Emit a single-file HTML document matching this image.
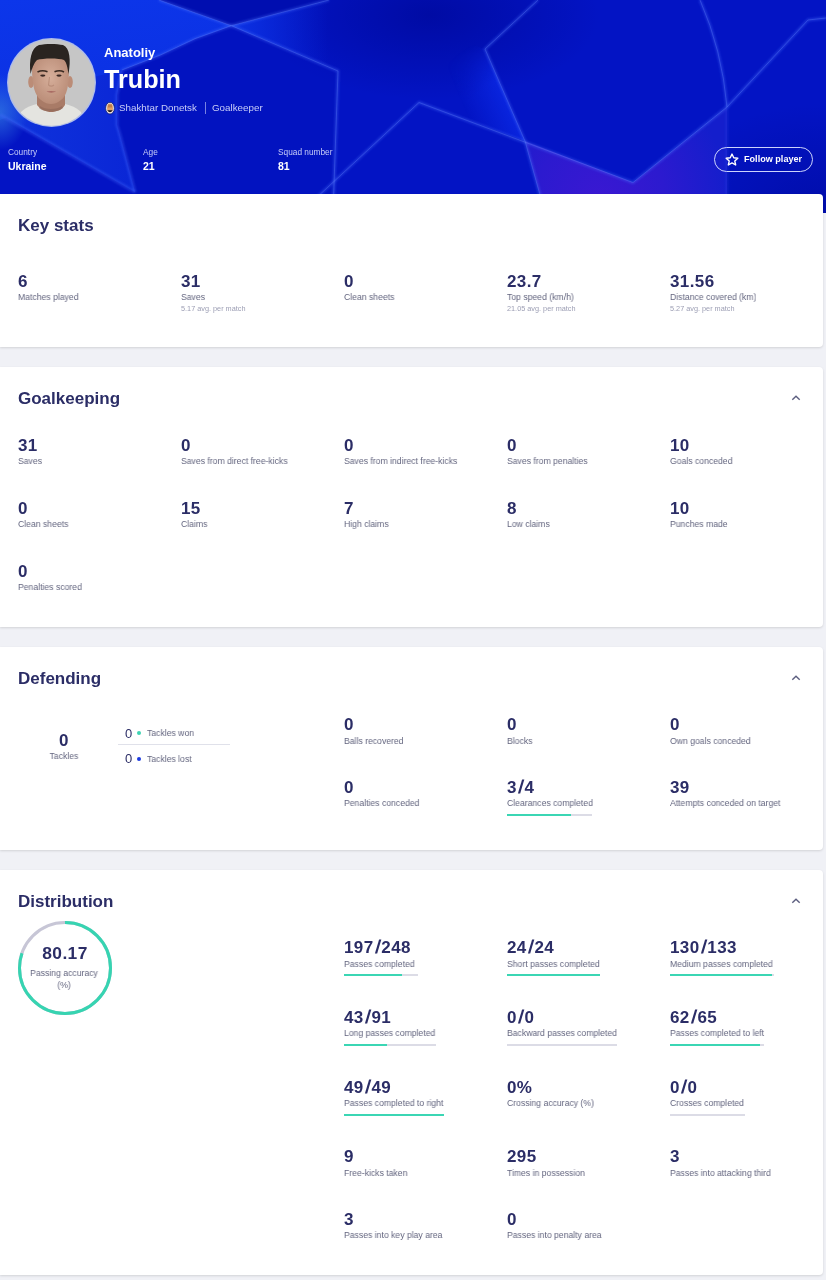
<!DOCTYPE html>
<html><head><meta charset="utf-8">
<style>
*{margin:0;padding:0;box-sizing:border-box}
html,body{width:826px;height:1280px;overflow:hidden;background:#f0f1f6;font-family:"Liberation Sans",sans-serif}
.a{position:absolute;white-space:nowrap;line-height:1;will-change:transform}
#hdr{position:absolute;left:0;top:0;width:826px;height:213px;overflow:hidden;background:#0a22d4}
.card{position:absolute;left:0;width:823px;background:#fff;border-radius:0 4px 4px 0;box-shadow:0 1px 2.5px rgba(0,0,0,0.13)}
.h{font-weight:bold;font-size:17px;color:#2b2d66}
.n{font-weight:bold;font-size:17px;color:#2b2d66;letter-spacing:0.4px}
.sl{display:inline-block;margin:0 1.3px;transform:scale(1.12,1.1) skewX(-6deg);transform-origin:50% 80%}
.l{font-size:8.7px;color:#63657f;transform:scaleX(0.95);transform-origin:0 0}
.s{font-size:7.3px;color:#9c9eb4}
.hw{color:#fff;font-weight:bold}
.hl{color:#c9cef8}
.bar{position:absolute;height:2px;background:#dcdce6}
.bar i{position:absolute;left:0;top:0;height:2px;background:#3bd6b4}
.chev{position:absolute;width:9px;height:6px}
</style></head><body>
<div id="hdr">
<svg width="826" height="213" style="position:absolute;left:0;top:0">
<defs>
<radialGradient id="dk" cx="0.5" cy="0.5" r="0.5"><stop offset="0" stop-color="#000ba4" stop-opacity="1"/><stop offset="1" stop-color="#000ba4" stop-opacity="0"/></radialGradient>
<linearGradient id="wl" x1="0" y1="0" x2="0.3" y2="1"><stop offset="0" stop-color="#0c36ea"/><stop offset="1" stop-color="#0b30e2"/></linearGradient>
<linearGradient id="lc" x1="0" y1="0" x2="1" y2="0"><stop offset="0" stop-color="#0f34dc"/><stop offset="1" stop-color="#0a26d6"/></linearGradient>
<radialGradient id="cy" cx="0.5" cy="0.5" r="0.5"><stop offset="0" stop-color="#2a6ae0" stop-opacity="0.9"/><stop offset="1" stop-color="#2a6ae0" stop-opacity="0"/></radialGradient>
<radialGradient id="pu" cx="600" cy="200" r="130" gradientUnits="userSpaceOnUse"><stop offset="0" stop-color="#3a18d2"/><stop offset="0.5" stop-color="#2c1acf"/><stop offset="1" stop-color="#141ecc"/></radialGradient>
<linearGradient id="gl" x1="505" y1="95" x2="466" y2="112" gradientUnits="userSpaceOnUse"><stop offset="0" stop-color="#0a26e0" stop-opacity="0.95"/><stop offset="1" stop-color="#0a26e0" stop-opacity="0"/></linearGradient>
<radialGradient id="glr" cx="515" cy="130" r="95" gradientUnits="userSpaceOnUse"><stop offset="0" stop-color="#fff"/><stop offset="0.55" stop-color="#fff"/><stop offset="1" stop-color="#000"/></radialGradient>
<mask id="glm" maskUnits="userSpaceOnUse" x="0" y="0" width="826" height="213"><rect width="826" height="213" fill="url(#glr)"/></mask>
<filter id="bl" x="-5%" y="-5%" width="110%" height="110%"><feGaussianBlur stdDeviation="1.3"/></filter>
<linearGradient id="rw" x1="231" y1="0" x2="328" y2="0" gradientUnits="userSpaceOnUse"><stop offset="0" stop-color="#0c34e6" stop-opacity="0.95"/><stop offset="1" stop-color="#0c34e6" stop-opacity="0"/></linearGradient>
</defs>
<rect width="826" height="213" fill="#0314c4"/>
<ellipse cx="430" cy="15" rx="170" ry="85" fill="url(#dk)"/>
<ellipse cx="826" cy="213" rx="170" ry="110" fill="url(#dk)" opacity="0.8"/>
<polygon points="159,0 231.3,25.7 329,0" fill="#000eb0"/>
<polygon points="231.3,25.7 338,71 333,213 135,213 120,135 117,95 122,70" fill="#0111bc" opacity="0.5"/>
<polygon points="0,0 159,0 231.3,25.7 195,38.7 160.5,55 122,70 0,120" fill="url(#wl)"/>
<polygon points="0,100 122,70 117,95 117,125 120,135 135,192 0,114.6" fill="url(#lc)"/>
<polygon points="231.3,25.7 329,0 338,71" fill="url(#rw)"/>
<ellipse cx="0" cy="112" rx="28" ry="38" fill="url(#cy)"/>
<polygon points="400,90 430,30 485,49 525,141 419,102.5" fill="url(#gl)" mask="url(#glm)"/>
<polygon points="525,141 633,182.5 727,107 727,213 545,213" fill="url(#pu)"/>
<g fill="none" stroke-linejoin="round">
<g stroke="#4a70ff" stroke-opacity="0.35" stroke-width="3" filter="url(#bl)">
<path d="M159,0 L231.3,25.7 L338,71 L333,213"/>
<path d="M329,0 L231.3,25.7 L195,38.7 L160.5,55 L122,70"/>
<path d="M300,213 L419,102.5 L633,182.5 L727,107"/>
<path d="M538,0 L485,49 L525,141 L545,213"/>
<path d="M700,0 Q722,50 727,107"/>
<path d="M727,107 L727,213" stroke-opacity="0.15"/>
<path d="M727,107 L808,20 L826,18"/>
<path d="M122,70 L117,95 L117,125 L120,135 L135,192"/>
<path d="M0,114.6 L135,192"/>
</g>
<g stroke="#7094ff" stroke-opacity="0.35" stroke-width="0.8">
<path d="M159,0 L231.3,25.7 L338,71 L333,213"/>
<path d="M329,0 L231.3,25.7 L195,38.7 L160.5,55 L122,70"/>
<path d="M300,213 L419,102.5 L633,182.5 L727,107"/>
<path d="M538,0 L485,49 L525,141 L545,213"/>
<path d="M700,0 Q722,50 727,107"/>
<path d="M727,107 L808,20 L826,18"/>
</g>
</g>
</svg>
<!-- avatar -->
<svg class="a" style="left:7px;top:38px" width="89" height="89" viewBox="0 0 89 89">
<defs><clipPath id="cc"><circle cx="44.5" cy="44.5" r="43.2"/></clipPath>
<radialGradient id="sk" cx="0.5" cy="0.45" r="0.6"><stop offset="0" stop-color="#d6ae9a"/><stop offset="1" stop-color="#b88a75"/></radialGradient></defs>
<circle cx="44.5" cy="44.5" r="44.5" fill="#aebcea"/>
<g clip-path="url(#cc)">
<rect width="89" height="89" fill="#c6c6c6"/>
<path d="M10,89 L14,74 C20,68 28,66 36,65 L52,65 C60,66 68,68 74,74 L80,89 Z" fill="#e4e4e0"/>
<path d="M30,56 L30,67 C34,72 40,74 44,74 C49,74 55,72 58,67 L58,56 Z" fill="#a97b67"/>
<path d="M33,68 C38,72 50,72 55,68 L56,70 C50,75 38,75 32,70 Z" fill="#8e6657" opacity="0.6"/>
<ellipse cx="24" cy="44" rx="2.8" ry="6" fill="#bb8c77"/>
<ellipse cx="63" cy="44" rx="2.8" ry="6" fill="#bb8c77"/>
<path d="M25,30 C25,48 28,58 34,62 C38,65 41,66 44,66 C47,66 50,65 54,62 C60,58 62,48 62,30 C62,22 55,18 44,18 C33,18 25,22 25,30 Z" fill="url(#sk)"/>
<path d="M23.5,36 C22,22 24,10 32,7 C38,5.5 50,5.5 56,7 C63,10 64,22 61.5,36 C60.5,30 60,25 57,22 C52,20 36,20 30,22 C27,25 25,30 23.5,36 Z" fill="#2a2420"/>
<path d="M30.5,34 C34,32.3 37.5,32.5 40.5,33.8 M47.5,33.8 C50.5,32.5 54,32.3 57,34" stroke="#3a2a22" stroke-width="1.6" fill="none"/>
<ellipse cx="35.8" cy="37.6" rx="2.6" ry="1.1" fill="#3a2823"/>
<ellipse cx="52" cy="37.6" rx="2.6" ry="1.1" fill="#3a2823"/>
<path d="M42.5,39 L41.5,47 C43,48.2 45.5,48.2 47,47" stroke="#b08570" stroke-width="1.1" fill="none" opacity="0.7"/>
<path d="M39.5,53.6 C42,52.8 46,52.8 49,53.6 C46.5,55 42,55 39.5,53.6 Z" fill="#a86a62"/>
</g>
</svg>
<div class="a hw" style="left:104px;top:46px;font-size:13px">Anatoliy</div>
<div class="a hw" style="left:104px;top:67.2px;font-size:25.2px">Trubin</div>
<svg class="a" style="left:105px;top:101.5px" width="10" height="13" viewBox="0 0 10 13">
<ellipse cx="5" cy="6.2" rx="4.4" ry="5.9" fill="#e9e4ef" stroke="#13206a" stroke-width="0.8"/>
<ellipse cx="5" cy="6" rx="3" ry="4.4" fill="#e2a068"/>
<path d="M2.4,8.2 C3.5,10.6 6.5,10.6 7.6,8.2 Z" fill="#1a1a20"/>
<path d="M4,2.5 v3 M6,2.5 v3" stroke="#8a5020" stroke-width="0.8"/>
</svg>
<div class="a hl" style="left:119px;top:103px;font-size:9.8px">Shakhtar Donetsk</div>
<div class="a" style="left:205px;top:102px;width:1px;height:12px;background:rgba(200,205,248,0.6)"></div>
<div class="a hl" style="left:212px;top:103px;font-size:9.8px">Goalkeeper</div>
<div class="a hl" style="left:8px;top:148px;font-size:8.3px">Country</div>
<div class="a hw" style="left:8px;top:161px;font-size:10.5px">Ukraine</div>
<div class="a hl" style="left:143px;top:148px;font-size:8.3px">Age</div>
<div class="a hw" style="left:143px;top:161px;font-size:10.5px">21</div>
<div class="a hl" style="left:278px;top:148px;font-size:8.3px">Squad number</div>
<div class="a hw" style="left:278px;top:161px;font-size:10.5px">81</div>
<div class="a" style="left:714px;top:147px;width:99px;height:25px;border:1px solid rgba(215,222,255,0.95);border-radius:13px"></div>
<svg class="a" style="left:725px;top:153px" width="14" height="13" viewBox="0 0 24 22.3"><path d="M12,1.8 L15,8.2 L22,9 L16.8,13.8 L18.3,20.6 L12,17.1 L5.7,20.6 L7.2,13.8 L2,9 L9,8.2 Z" fill="none" stroke="#fff" stroke-width="2.4" stroke-linejoin="round"/></svg>
<div class="a hw" style="left:744px;top:155.2px;font-size:9.1px">Follow player</div>
</div>

<div class="card" style="top:194px;height:153px"></div>
<div class="a h" style="left:18px;top:216.51px;font-size:17px;">Key stats</div>
<div class="a n" style="left:18px;top:272.61px;font-size:17px;">6</div>
<div class="a l" style="left:18px;top:292.9px;font-size:9.1px;">Matches played</div>
<div class="a n" style="left:181px;top:272.61px;font-size:17px;">31</div>
<div class="a l" style="left:181px;top:292.9px;font-size:9.1px;">Saves</div>
<div class="a s" style="left:181px;top:304.62px;font-size:7.3px;">5.17 avg. per match</div>
<div class="a n" style="left:344px;top:272.61px;font-size:17px;">0</div>
<div class="a l" style="left:344px;top:292.9px;font-size:9.1px;">Clean sheets</div>
<div class="a n" style="left:507px;top:272.61px;font-size:17px;">23.7</div>
<div class="a l" style="left:507px;top:292.9px;font-size:9.1px;">Top speed (km/h)</div>
<div class="a s" style="left:507px;top:304.62px;font-size:7.3px;">21.05 avg. per match</div>
<div class="a n" style="left:670px;top:272.61px;font-size:17px;">31.56</div>
<div class="a l" style="left:670px;top:292.9px;font-size:9.1px;">Distance covered (km)</div>
<div class="a s" style="left:670px;top:304.62px;font-size:7.3px;">5.27 avg. per match</div>
<div class="card" style="top:367px;height:260px"></div>
<div class="a h" style="left:18px;top:389.51px;font-size:17px;">Goalkeeping</div>
<svg class="a" style="left:791px;top:395px" width="10" height="6" viewBox="0 0 10 6"><path d="M1.3,4.8 L5,1.2 L8.7,4.8" fill="none" stroke="#5d5f80" stroke-width="1.4"/></svg>
<div class="a n" style="left:18px;top:436.51px;font-size:17px;">31</div>
<div class="a l" style="left:18px;top:456.8px;font-size:9.1px;">Saves</div>
<div class="a n" style="left:181px;top:436.51px;font-size:17px;">0</div>
<div class="a l" style="left:181px;top:456.8px;font-size:9.1px;">Saves from direct free-kicks</div>
<div class="a n" style="left:344px;top:436.51px;font-size:17px;">0</div>
<div class="a l" style="left:344px;top:456.8px;font-size:9.1px;">Saves from indirect free-kicks</div>
<div class="a n" style="left:507px;top:436.51px;font-size:17px;">0</div>
<div class="a l" style="left:507px;top:456.8px;font-size:9.1px;">Saves from penalties</div>
<div class="a n" style="left:670px;top:436.51px;font-size:17px;">10</div>
<div class="a l" style="left:670px;top:456.8px;font-size:9.1px;">Goals conceded</div>
<div class="a n" style="left:18px;top:499.51px;font-size:17px;">0</div>
<div class="a l" style="left:18px;top:519.8px;font-size:9.1px;">Clean sheets</div>
<div class="a n" style="left:181px;top:499.51px;font-size:17px;">15</div>
<div class="a l" style="left:181px;top:519.8px;font-size:9.1px;">Claims</div>
<div class="a n" style="left:344px;top:499.51px;font-size:17px;">7</div>
<div class="a l" style="left:344px;top:519.8px;font-size:9.1px;">High claims</div>
<div class="a n" style="left:507px;top:499.51px;font-size:17px;">8</div>
<div class="a l" style="left:507px;top:519.8px;font-size:9.1px;">Low claims</div>
<div class="a n" style="left:670px;top:499.51px;font-size:17px;">10</div>
<div class="a l" style="left:670px;top:519.8px;font-size:9.1px;">Punches made</div>
<div class="a n" style="left:18px;top:562.51px;font-size:17px;">0</div>
<div class="a l" style="left:18px;top:582.8px;font-size:9.1px;">Penalties scored</div>
<div class="card" style="top:647px;height:203px"></div>
<div class="a h" style="left:18px;top:669.51px;font-size:17px;">Defending</div>
<svg class="a" style="left:791px;top:675px" width="10" height="6" viewBox="0 0 10 6"><path d="M1.3,4.8 L5,1.2 L8.7,4.8" fill="none" stroke="#5d5f80" stroke-width="1.4"/></svg>
<div class="a n" style="left:33.7px;width:60px;text-align:center;top:731.81px;font-size:17px">0</div>
<div class="a l" style="left:33.7px;width:60px;text-align:center;transform-origin:50% 0;top:751.9px;font-size:9.1px">Tackles</div>
<div class="a n" style="left:124.5px;top:727.4px;font-size:13px;font-weight:normal">0</div>
<div class="a" style="left:137.3px;top:731.2px;width:4px;height:4px;border-radius:50%;background:#3dd3b3"></div>
<div class="a l" style="left:147px;top:729.1px;font-size:9.1px;">Tackles won</div>
<div class="a" style="left:117.5px;top:744px;width:112px;height:1px;background:#e0e1ea"></div>
<div class="a n" style="left:124.5px;top:752.1px;font-size:13px;font-weight:normal">0</div>
<div class="a" style="left:137.3px;top:756.8px;width:4px;height:4px;border-radius:50%;background:#1d3be0"></div>
<div class="a l" style="left:147px;top:755.1px;font-size:9.1px;">Tackles lost</div>
<div class="a n" style="left:344px;top:716.41px;font-size:17px;">0</div>
<div class="a l" style="left:344px;top:736.7px;font-size:9.1px;">Balls recovered</div>
<div class="a n" style="left:507px;top:716.41px;font-size:17px;">0</div>
<div class="a l" style="left:507px;top:736.7px;font-size:9.1px;">Blocks</div>
<div class="a n" style="left:670px;top:716.41px;font-size:17px;">0</div>
<div class="a l" style="left:670px;top:736.7px;font-size:9.1px;">Own goals conceded</div>
<div class="a n" style="left:344px;top:778.71px;font-size:17px;">0</div>
<div class="a l" style="left:344px;top:799.0px;font-size:9.1px;">Penalties conceded</div>
<div class="a n" style="left:507px;top:778.71px;font-size:17px;">3<span class="sl">/</span>4</div>
<div class="a l" style="left:507px;top:799.0px;font-size:9.1px;">Clearances completed</div>
<div class="bar" style="left:507px;top:813.9px;width:85px"><i style="width:75.00%"></i></div>
<div class="a n" style="left:670px;top:778.71px;font-size:17px;">39</div>
<div class="a l" style="left:670px;top:799.0px;font-size:9.1px;">Attempts conceded on target</div>
<div class="card" style="top:870px;height:405px"></div>
<div class="a h" style="left:18px;top:892.51px;font-size:17px;">Distribution</div>
<svg class="a" style="left:791px;top:898px" width="10" height="6" viewBox="0 0 10 6"><path d="M1.3,4.8 L5,1.2 L8.7,4.8" fill="none" stroke="#5d5f80" stroke-width="1.4"/></svg>
<svg class="a" style="left:16.5px;top:920.3px" width="96" height="96" viewBox="0 0 96 96"><circle cx="48" cy="48" r="45.5" fill="none" stroke="#c7c6d6" stroke-width="3"/><circle cx="48" cy="48" r="45.5" fill="none" stroke="#36d4b1" stroke-width="3" stroke-dasharray="229.19 285.88" transform="rotate(-90 48 48)"/></svg>
<div class="a n" style="left:14.5px;width:100px;text-align:center;top:944.67px;font-size:17.4px">80.17</div>
<div class="a l" style="left:14px;width:100px;text-align:center;transform-origin:50% 0;top:969.3px;font-size:9.1px">Passing accuracy</div>
<div class="a l" style="left:14px;width:100px;text-align:center;transform-origin:50% 0;top:980.8px;font-size:9.1px">(%)</div>
<div class="a n" style="left:344px;top:939.21px;font-size:17px;">197<span class="sl">/</span>248</div>
<div class="a l" style="left:344px;top:959.5px;font-size:9.1px;">Passes completed</div>
<div class="bar" style="left:344px;top:974.4px;width:73.5px"><i style="width:79.44%"></i></div>
<div class="a n" style="left:507px;top:939.21px;font-size:17px;">24<span class="sl">/</span>24</div>
<div class="a l" style="left:507px;top:959.5px;font-size:9.1px;">Short passes completed</div>
<div class="bar" style="left:507px;top:974.4px;width:93px"><i style="width:100.00%"></i></div>
<div class="a n" style="left:670px;top:939.21px;font-size:17px;">130<span class="sl">/</span>133</div>
<div class="a l" style="left:670px;top:959.5px;font-size:9.1px;">Medium passes completed</div>
<div class="bar" style="left:670px;top:974.4px;width:104px"><i style="width:97.74%"></i></div>
<div class="a n" style="left:344px;top:1009.11px;font-size:17px;">43<span class="sl">/</span>91</div>
<div class="a l" style="left:344px;top:1029.4px;font-size:9.1px;">Long passes completed</div>
<div class="bar" style="left:344px;top:1044.3px;width:91.5px"><i style="width:47.25%"></i></div>
<div class="a n" style="left:507px;top:1009.11px;font-size:17px;">0<span class="sl">/</span>0</div>
<div class="a l" style="left:507px;top:1029.4px;font-size:9.1px;">Backward passes completed</div>
<div class="bar" style="left:507px;top:1044.3px;width:110px"><i style="width:0.00%"></i></div>
<div class="a n" style="left:670px;top:1009.11px;font-size:17px;">62<span class="sl">/</span>65</div>
<div class="a l" style="left:670px;top:1029.4px;font-size:9.1px;">Passes completed to left</div>
<div class="bar" style="left:670px;top:1044.3px;width:94px"><i style="width:95.38%"></i></div>
<div class="a n" style="left:344px;top:1078.51px;font-size:17px;">49<span class="sl">/</span>49</div>
<div class="a l" style="left:344px;top:1098.8px;font-size:9.1px;">Passes completed to right</div>
<div class="bar" style="left:344px;top:1113.7px;width:100px"><i style="width:100.00%"></i></div>
<div class="a n" style="left:507px;top:1078.51px;font-size:17px;">0%</div>
<div class="a l" style="left:507px;top:1098.8px;font-size:9.1px;">Crossing accuracy (%)</div>
<div class="a n" style="left:670px;top:1078.51px;font-size:17px;">0<span class="sl">/</span>0</div>
<div class="a l" style="left:670px;top:1098.8px;font-size:9.1px;">Crosses completed</div>
<div class="bar" style="left:670px;top:1113.7px;width:75px"><i style="width:0.00%"></i></div>
<div class="a n" style="left:344px;top:1148.21px;font-size:17px;">9</div>
<div class="a l" style="left:344px;top:1168.5px;font-size:9.1px;">Free-kicks taken</div>
<div class="a n" style="left:507px;top:1148.21px;font-size:17px;">295</div>
<div class="a l" style="left:507px;top:1168.5px;font-size:9.1px;">Times in possession</div>
<div class="a n" style="left:670px;top:1148.21px;font-size:17px;">3</div>
<div class="a l" style="left:670px;top:1168.5px;font-size:9.1px;">Passes into attacking third</div>
<div class="a n" style="left:344px;top:1210.71px;font-size:17px;">3</div>
<div class="a l" style="left:344px;top:1231.0px;font-size:9.1px;">Passes into key play area</div>
<div class="a n" style="left:507px;top:1210.71px;font-size:17px;">0</div>
<div class="a l" style="left:507px;top:1231.0px;font-size:9.1px;">Passes into penalty area</div>
</body></html>
